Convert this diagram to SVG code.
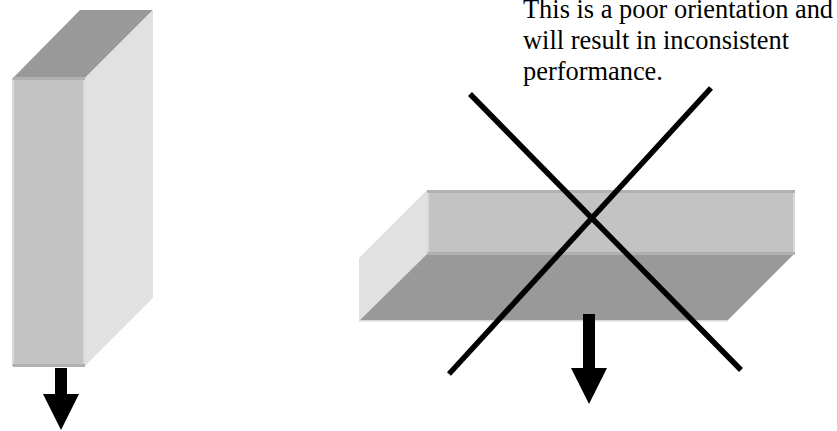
<svg xmlns="http://www.w3.org/2000/svg" width="837" height="431" viewBox="0 0 837 431">
<style>
.front{fill:#c3c3c3}
.top{fill:#999999}
.side{fill:#e1e1e1}
.dark{fill:#b1b1b1}
.light{fill:#d9d9d9}
.arrow{fill:#000}
.cross{stroke:#000;stroke-width:5.5;fill:none}
text{font-family:"Liberation Serif","Times New Roman",serif;font-size:26.4px;fill:#000}
</style>
<rect width="837" height="431" fill="#fff"/>
<g id="vertical-block">
<polygon class="top" points="13,78 80,10 153,10 85,78"/>
<polygon class="side" points="85,78 153,10 153,298 85,366"/>
<rect class="front" x="12" y="78" width="73" height="288"/>
<rect class="dark" x="13" y="77" width="72" height="3"/>
<rect class="dark" x="13" y="364" width="72" height="3"/>
<rect class="light" x="12" y="80" width="2" height="284"/>
<rect class="light" x="83" y="80" width="2" height="284"/>
</g>
<g id="horizontal-block">
<polygon class="side" points="359,258 427,190 427,254 359,321"/>
<polygon class="top" points="359,321 427,254 794,254 727,321"/>
<rect class="front" x="427" y="190" width="367" height="64"/>
<rect class="dark" x="427" y="190" width="368" height="3"/>
<rect class="dark" x="427" y="252" width="368" height="3"/>
<rect class="light" x="427" y="193" width="2" height="59"/>
<rect class="light" x="793" y="193" width="2" height="59"/>
<rect class="light" x="359" y="320" width="368" height="1.5"/>
</g>
<g id="connectors">
<polygon id="arrow-left" class="arrow" points="55,368 67,368 67,394 79,394 61,430 43,394 55,394"/>
<polygon id="arrow-right" class="arrow" points="583,314 595,314 595,368 607,368 589,404 571,368 583,368"/>
<line class="cross" x1="470" y1="94" x2="741" y2="370"/>
<line class="cross" x1="711" y1="88" x2="449" y2="374"/>
</g>
<g id="note">
<text x="523" y="18">This is a poor orientation and</text>
<text x="523" y="49">will result in inconsistent</text>
<text x="523" y="80">performance.</text>
</g>
</svg>
